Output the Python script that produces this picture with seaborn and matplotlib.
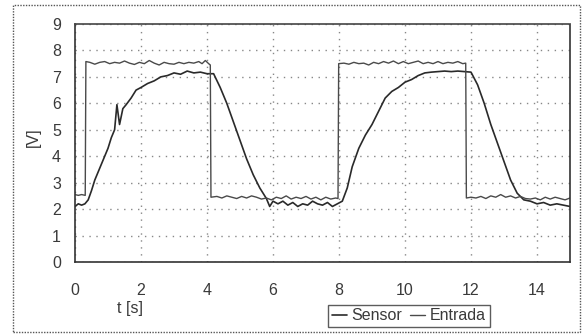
import matplotlib
matplotlib.use("Agg")
import matplotlib.pyplot as plt
import seaborn as sns
import pandas as pd
from matplotlib.patches import Rectangle

entrada_t = [0.00, 0.10, 0.20, 0.31, 0.33, 0.45, 0.60, 0.75, 0.90, 1.05, 1.20, 1.35, 1.50, 1.65, 1.80, 1.95,
             2.10, 2.25, 2.40, 2.55, 2.70, 2.85, 3.00, 3.15, 3.30, 3.45, 3.60, 3.75, 3.85, 3.95, 4.05, 4.10,
             4.12, 4.30, 4.45, 4.60, 4.75, 4.90, 5.05, 5.20, 5.35, 5.50, 5.65, 5.80, 5.95, 6.10, 6.25, 6.40,
             6.55, 6.70, 6.85, 7.00, 7.15, 7.30, 7.45, 7.60, 7.75, 7.90, 7.97, 7.99, 8.15, 8.30, 8.45, 8.60,
             8.75, 8.90, 9.05, 9.20, 9.35, 9.50, 9.65, 9.80, 9.95, 10.10, 10.25, 10.40, 10.55, 10.70, 10.85,
             11.00, 11.15, 11.30, 11.45, 11.60, 11.75, 11.84, 11.86, 12.00, 12.15, 12.30, 12.45, 12.60, 12.75,
             12.90, 13.05, 13.20, 13.35, 13.50, 13.65, 13.80, 13.95, 14.10, 14.25, 14.40, 14.55, 14.70, 14.85, 15.00]
entrada_v = [2.55, 2.52, 2.55, 2.52, 7.58, 7.55, 7.48, 7.55, 7.58, 7.50, 7.55, 7.52, 7.60, 7.52, 7.47, 7.55,
             7.50, 7.62, 7.52, 7.45, 7.55, 7.50, 7.48, 7.55, 7.50, 7.55, 7.52, 7.58, 7.50, 7.62, 7.50, 7.45,
             2.45, 2.48, 2.42, 2.50, 2.45, 2.40, 2.48, 2.42, 2.50, 2.45, 2.38, 2.42, 2.35, 2.45, 2.40, 2.50,
             2.38, 2.45, 2.40, 2.48, 2.38, 2.45, 2.35, 2.45, 2.38, 2.42, 2.40, 7.50, 7.52, 7.48, 7.55, 7.50,
             7.52, 7.45, 7.55, 7.50, 7.58, 7.52, 7.60, 7.50, 7.58, 7.50, 7.55, 7.60, 7.50, 7.55, 7.50,
             7.58, 7.50, 7.55, 7.52, 7.58, 7.50, 7.52, 2.42, 2.45, 2.42, 2.48, 2.40, 2.50, 2.45,
             2.55, 2.45, 2.50, 2.42, 2.48, 2.40, 2.38, 2.42, 2.35, 2.45, 2.38, 2.45, 2.40, 2.35, 2.42]

sensor_t = [0.0, 0.1, 0.2, 0.3, 0.4, 0.5, 0.6, 0.7, 0.8, 0.9, 1.0, 1.1, 1.2, 1.27, 1.35, 1.45, 1.55, 1.7, 1.85,
            2.0, 2.2, 2.4, 2.6, 2.8, 3.0, 3.2, 3.4, 3.6, 3.8, 4.0, 4.2, 4.4, 4.6, 4.8, 5.0, 5.2, 5.4, 5.6, 5.8,
            5.9, 6.0, 6.15, 6.3, 6.45, 6.6, 6.75, 6.9, 7.05, 7.2, 7.35, 7.5, 7.65, 7.8, 7.95, 8.1, 8.25, 8.4,
            8.6, 8.8, 9.0, 9.2, 9.4, 9.6, 9.8, 10.0, 10.2, 10.4, 10.6, 10.8, 11.0, 11.2, 11.4, 11.6, 11.8, 12.0,
            12.2, 12.4, 12.6, 12.8, 13.0, 13.2, 13.4, 13.6, 13.8, 14.0, 14.2, 14.4, 14.6, 14.8, 15.0]
sensor_v = [2.10, 2.20, 2.15, 2.20, 2.35, 2.70, 3.10, 3.40, 3.70, 4.00, 4.30, 4.70, 5.00, 5.95, 5.20, 5.80, 5.95, 6.20, 6.50,
            6.60, 6.75, 6.85, 7.00, 7.05, 7.15, 7.10, 7.22, 7.15, 7.18, 7.12, 7.12, 6.60, 6.00, 5.30, 4.60, 3.90, 3.30, 2.80, 2.40,
            2.10, 2.30, 2.20, 2.30, 2.15, 2.25, 2.10, 2.20, 2.15, 2.30, 2.20, 2.15, 2.25, 2.10, 2.20, 2.30, 2.80, 3.60,
            4.30, 4.80, 5.20, 5.70, 6.20, 6.45, 6.60, 6.80, 6.90, 7.05, 7.15, 7.18, 7.20, 7.22, 7.20, 7.22, 7.20, 7.18,
            6.70, 6.00, 5.20, 4.50, 3.80, 3.10, 2.60, 2.35, 2.30, 2.20, 2.25, 2.15, 2.20, 2.15, 2.10]

x_ticks = [0, 2, 4, 6, 8, 10, 12, 14]
y_ticks = [0, 1, 2, 3, 4, 5, 6, 7, 8, 9]

sns.set_style("white")
plt.rcParams['font.family'] = ['Liberation Sans', 'DejaVu Sans']
FS = 11.5
TXT = "#3a3a3a"

fig = plt.figure(figsize=(5.85, 3.35), dpi=100)
ax = fig.add_axes([75/585, 1-262/335, (570-75)/585, (262-24)/335])

df_s = pd.DataFrame({"t": sensor_t, "v": sensor_v})
df_e = pd.DataFrame({"t": entrada_t, "v": entrada_v})
sns.lineplot(data=df_s, x="t", y="v", ax=ax, estimator=None, sort=False,
             color="#2a2a2a", linewidth=1.2, label="Sensor")
sns.lineplot(data=df_e, x="t", y="v", ax=ax, estimator=None, sort=False,
             color="#4a4a4a", linewidth=1.0, label="Entrada")

ax.set_xlim(0, 15)
ax.set_ylim(0, 9)
ax.set_xticks(x_ticks)
ax.set_yticks(y_ticks)
ax.grid(True, color="#888888", linestyle=(0, (1, 4)), linewidth=1.0)
for s in ["left", "right", "bottom"]:
    ax.spines[s].set_color("#333333")
    ax.spines[s].set_linewidth(1.2)
ax.spines["top"].set_color("#444444")
ax.spines["top"].set_linestyle((0, (2, 1)))
ax.spines["top"].set_linewidth(1.2)
ax.tick_params(axis="both", direction="out", length=4, width=1, color="#333333",
               labelsize=FS, labelcolor=TXT)
ax.tick_params(axis="x", pad=11)
ax.tick_params(axis="y", pad=6)
ax.set_xlabel("")
ax.set_ylabel("")
fig.text(33/585, 1-137/335, "[V]", rotation=90, ha="center", va="center", fontsize=FS, color=TXT)
fig.text(130/585, 1-309/335, "t [s]", ha="center", va="center", fontsize=FS, color=TXT)

leg = ax.legend(loc="center", bbox_to_anchor=(409/585, 1-316/335), bbox_transform=fig.transFigure,
                ncol=2, frameon=True, fancybox=False, fontsize=FS, handlelength=0.9,
                handletextpad=0.3, columnspacing=0.5, borderpad=0.25, borderaxespad=0)
leg.get_frame().set_edgecolor("#333333")
leg.get_frame().set_linewidth(1.0)
for t in leg.get_texts():
    t.set_color(TXT)

fig.patches.append(Rectangle((13/585, 1-332/335), (580-13)/585, (332-5)/335,
                             transform=fig.transFigure, fill=False, edgecolor="#555555",
                             linewidth=1.0, linestyle=(0, (1, 1))))

fig.savefig("out.png", dpi=100)
